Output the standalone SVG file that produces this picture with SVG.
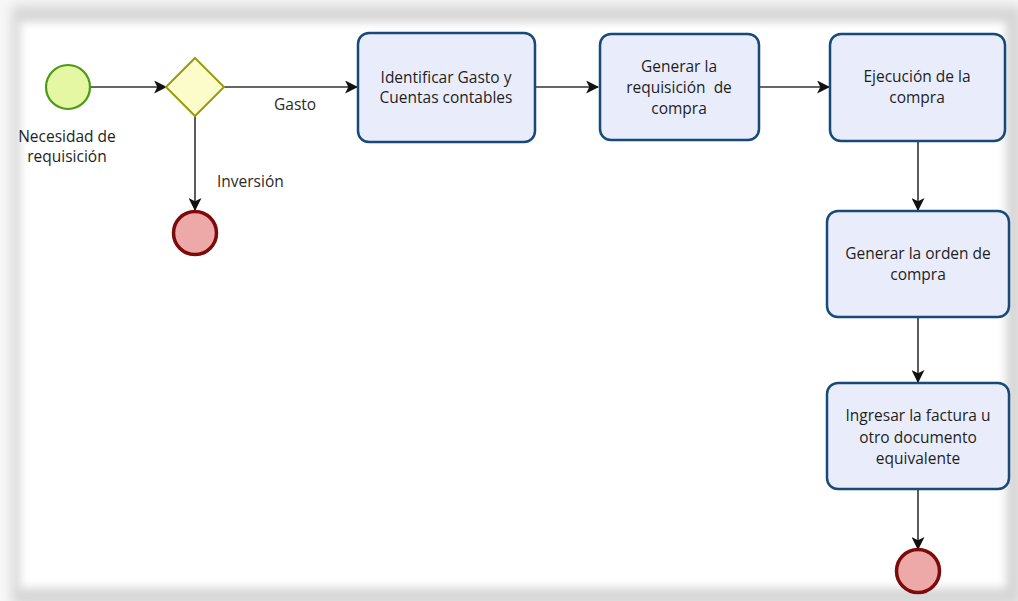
<svg xmlns="http://www.w3.org/2000/svg" width="1018" height="601" viewBox="0 0 1018 601">
  <defs>
    <filter id="blur5" x="-5%" y="-5%" width="110%" height="110%"><feGaussianBlur stdDeviation="6"/></filter>
    <filter id="blur3" x="-5%" y="-5%" width="110%" height="110%"><feGaussianBlur stdDeviation="4"/></filter>
    <marker id="arr" viewBox="0 0 12 12" refX="11" refY="6" markerWidth="13" markerHeight="13" markerUnits="userSpaceOnUse" orient="auto">
      <path d="M0,0 L12,6 L0,12 L3,6 Z" fill="#111"/>
    </marker>
  </defs>
  <style>
    .task { fill: #e9edfb; stroke: #174a78; stroke-width: 2.5; }
    .txt { font-family: "Open Sans", "DejaVu Sans", sans-serif; font-size: 15.5px; fill: #1e1e1e; text-anchor: middle; }
    .lbl { font-family: "Open Sans", "DejaVu Sans", sans-serif; font-size: 15.5px; fill: #2a2a2a; }
    .flow { fill: none; stroke: #333; stroke-width: 1.6; marker-end: url(#arr); }
    .end { fill: #eda8a8; stroke: #7d0a0a; stroke-width: 3.5; }
  </style>

  <g id="frame">
    <rect x="0" y="0" width="1018" height="601" fill="#f7f7f7"/>
    <rect x="12" y="6" width="1010" height="600" fill="#d6d6d6" filter="url(#blur5)"/>
    <rect x="20" y="22" width="986" height="566" fill="#ffffff" filter="url(#blur3)"/>
  </g>

  <g id="connectors">
    <line class="flow" x1="90" y1="87" x2="166" y2="87"/>
    <line class="flow" x1="224" y1="87" x2="357" y2="87"/>
    <line class="flow" x1="195" y1="116" x2="195" y2="210"/>
    <line class="flow" x1="535" y1="87" x2="598" y2="87"/>
    <line class="flow" x1="759" y1="87" x2="829" y2="87"/>
    <line class="flow" x1="918" y1="141" x2="918" y2="210"/>
    <line class="flow" x1="918" y1="317" x2="918" y2="382"/>
    <line class="flow" x1="918" y1="489" x2="918" y2="549"/>
    <text class="lbl" x="274" y="110">Gasto</text>
    <text class="lbl" x="217" y="187">Inversión</text>
  </g>

  <g id="start">
    <circle cx="68" cy="87" r="22" fill="#e5f7a3" stroke="#4a9a14" stroke-width="2.2"/>
    <text class="txt" x="67" y="142">Necesidad de</text>
    <text class="txt" x="67" y="162">requisición</text>
  </g>

  <g id="gateway">
    <polygon points="195,58 224,87 195,116 166,87" fill="#fcfccb" stroke="#9a9a10" stroke-width="2"/>
  </g>

  <g id="end1">
    <circle class="end" cx="195" cy="233" r="21.5"/>
  </g>

  <g id="task1">
    <rect class="task" x="358" y="33" width="177" height="109" rx="11"/>
    <text class="txt" x="446" y="83">Identificar Gasto y</text>
    <text class="txt" x="446" y="103">Cuentas contables</text>
  </g>

  <g id="task2">
    <rect class="task" x="600" y="34" width="159" height="106" rx="11"/>
    <text class="txt" x="679" y="72">Generar la</text>
    <text class="txt" x="679" y="93">requisición&#160; de</text>
    <text class="txt" x="679" y="114">compra</text>
  </g>

  <g id="task3">
    <rect class="task" x="830" y="34" width="175" height="107" rx="11"/>
    <text class="txt" x="917" y="82">Ejecución de la</text>
    <text class="txt" x="917" y="103">compra</text>
  </g>

  <g id="task4">
    <rect class="task" x="827" y="211" width="182" height="106" rx="11"/>
    <text class="txt" x="918" y="259">Generar la orden de</text>
    <text class="txt" x="918" y="280">compra</text>
  </g>

  <g id="task5">
    <rect class="task" x="827" y="383" width="182" height="106" rx="11"/>
    <text class="txt" x="918" y="421">Ingresar la factura u</text>
    <text class="txt" x="918" y="443">otro documento</text>
    <text class="txt" x="918" y="464">equivalente</text>
  </g>

  <g id="end2">
    <circle class="end" cx="918" cy="571" r="21.5"/>
  </g>
</svg>
